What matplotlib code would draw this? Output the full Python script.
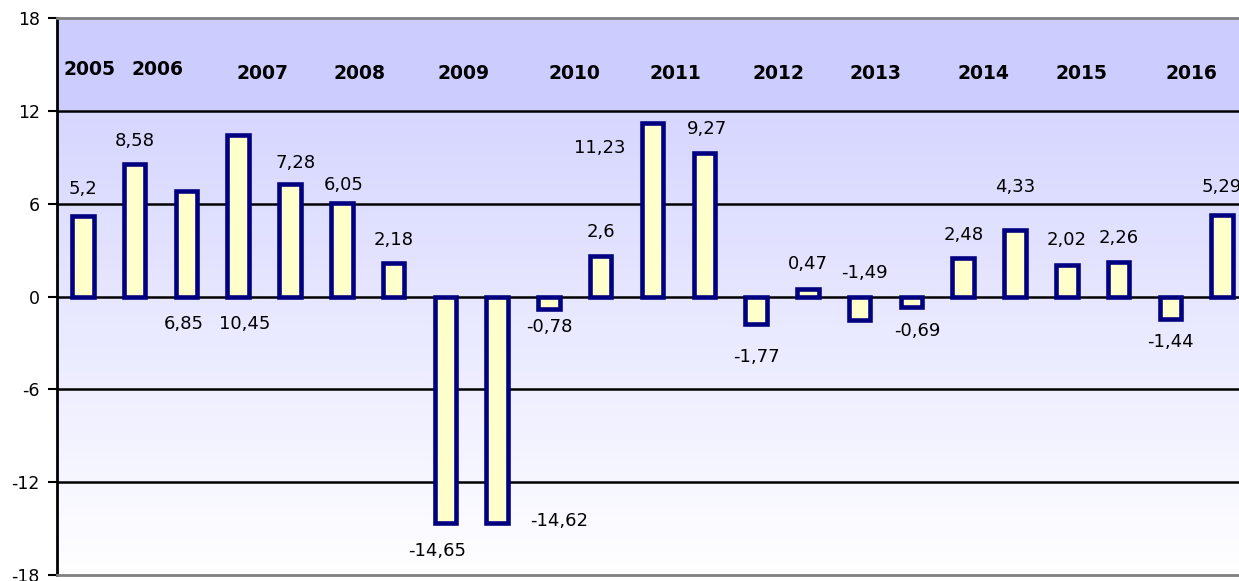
import numpy as np
import matplotlib.pyplot as plt
from matplotlib.colors import LinearSegmentedColormap

# ==========================================
# DATA
# ==========================================
values = [5.2, 8.58, 6.85, 10.45, 7.28, 6.05, 2.18, -14.65, -14.62, -0.78,
          2.6, 11.23, 9.27, -1.77, 0.47, -1.49, -0.69, 2.48, 4.33, 2.02,
          2.26, -1.44, 5.29]
years = ['2005', '2006', '2007', '2008', '2009', '2010', '2011', '2012',
         '2013', '2014', '2015', '2016']
y_ticks = [-18, -12, -6, 0, 6, 12, 18]

# layout of the labels (x offset in bar units, y in data units)
label_dx = [0, 0, -0.06, 0.12, 0.1, 0.04, 0, -0.15, 1.2, 0,
            0, -1.02, 0.06, 0, 0, 0.1, 0.12, 0, 0, 0,
            0, 0, 0]
label_y = [6.92, 10.02, -1.75, -1.75, 8.6, 7.18, 3.62, -16.48, -14.48, -2.0,
           4.14, 9.63, 10.8, -3.88, 2.07, 1.55, -2.2, 4.0, 7.05, 3.62,
           3.75, -2.97, 7.05]
year_x = [0.12, 1.45, 3.47, 5.35, 7.36, 9.5, 11.45, 13.44, 15.31, 17.39, 19.29, 21.41]
year_y = [14.64, 14.64, 14.44, 14.44, 14.44, 14.44, 14.44, 14.44, 14.44, 14.44, 14.44, 14.44]

# ==========================================
# FIGURE
# ==========================================
fig = plt.figure(figsize=(12.39, 5.81), dpi=100)
ax = fig.add_axes([57 / 1239, 6 / 581, 1191 / 1239, 557 / 581])

n = len(values)
x = np.arange(n)

# background: flat band on top, gradient below
ax.axhspan(12, 18, color='#ccccff', zorder=0, lw=0)
grad = np.linspace(0, 1, 256).reshape(-1, 1)
cmap = LinearSegmentedColormap.from_list('bg', ['#d6d6ff', '#ffffff'])
ax.imshow(grad, extent=[-0.5, n - 0.5, -18, 12], cmap=cmap, aspect='auto',
          origin='upper', zorder=0)
ax.set_xlim(-0.5, n - 0.5)
ax.set_ylim(-18, 18)

for t in [-12, -6, 0, 6, 12]:
    ax.axhline(t, color='black', lw=1.8, zorder=1)

ax.bar(x, values, width=0.415, color='#ffffcc', edgecolor='#000080',
       linewidth=3.3, zorder=3)

for i, v in enumerate(values):
    ax.text(i + label_dx[i], label_y[i], str(v).replace('.', ','),
            ha='center', va='center', fontsize=13, color='black', zorder=4)

for yr, xx, yy in zip(years, year_x, year_y):
    ax.text(xx, yy, yr, ha='center', va='center', fontsize=13.5,
            fontweight='bold', color='black', zorder=4)

ax.set_yticks(y_ticks)
ax.set_yticklabels([str(t) for t in y_ticks], fontsize=12.5)
ax.set_xticks([])
ax.tick_params(axis='y', direction='out', length=6.5, width=1.5, pad=6)

ax.spines['left'].set_color('black')
ax.spines['left'].set_linewidth(2)
ax.spines['top'].set_color('#808080')
ax.spines['top'].set_linewidth(2)
ax.spines['bottom'].set_color('#808080')
ax.spines['bottom'].set_linewidth(2)
ax.spines['right'].set_visible(False)

fig.savefig('out.png', dpi=100)
